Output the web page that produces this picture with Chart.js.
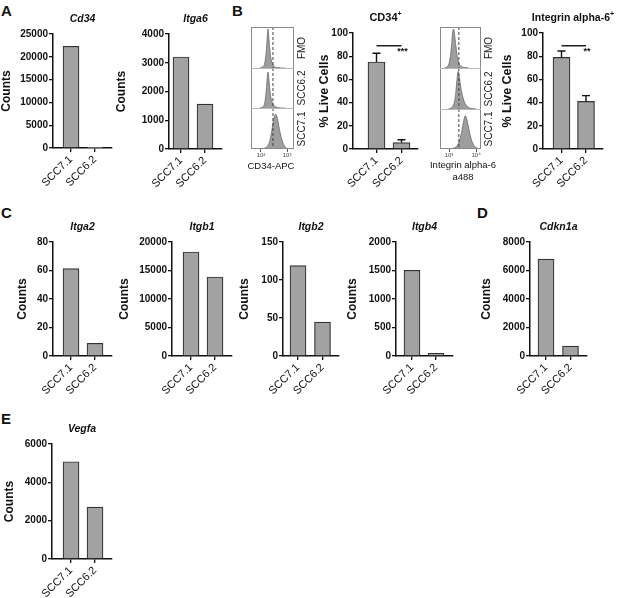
<!DOCTYPE html>
<html><head><meta charset="utf-8">
<script src="https://cdn.jsdelivr.net/npm/chart.js@4.4.1/dist/chart.umd.min.js"></script>
<style>
html,body{margin:0;padding:0;background:#fff;}
#root{position:relative;width:617px;height:598px;overflow:hidden;background:#fff;font-family:"Liberation Sans",Arial,sans-serif;}
.lbl{position:absolute;white-space:nowrap;color:#111;line-height:1;}
.panel{font-weight:bold;font-size:15px;}
.rot{transform:translate(-50%,-50%) rotate(-90deg);font-size:10px;color:#222;}
.ctr{transform:translateX(-50%);font-size:9.5px;color:#111;}
canvas{position:absolute;}
</style></head><body><div id="root"></div>
<script>
// ---------- data ----------
const categories = ['SCC7.1', 'SCC6.2'];
const cd34Counts = [22300, 170];
const itga6Counts = [3200, 1560];
const cd34PosPct = [75, 5.5];
const cd34PosErr = [82.5, 8];
const itga6PosPct = [79, 41];
const itga6PosErr = [84.5, 46];
const itga2Counts = [61.3, 8.9];
const itgb1Counts = [18250, 13860];
const itgb2Counts = [119, 44.7];
const itgb4Counts = [1503, 47];
const cdkn1aCounts = [6800, 700];
const vegfaCounts = [5076, 2703];

const cd34Ticks = [0, 5000, 10000, 15000, 20000, 25000];
const itga6Ticks = [0, 1000, 2000, 3000, 4000];
const pctTicks = [0, 20, 40, 60, 80, 100];
const itga2Ticks = [0, 20, 40, 60, 80];
const itgb1Ticks = [0, 5000, 10000, 15000, 20000];
const itgb2Ticks = [0, 50, 100, 150];
const itgb4Ticks = [0, 500, 1000, 1500, 2000];
const cdkn1aTicks = [0, 2000, 4000, 6000, 8000];
const vegfaTicks = [0, 2000, 4000, 6000];

const cd34SigLevel = 89;
const itga6SigLevel = 89;

// flow histograms (fluorescence on 0-100 display scale, relative count 0-100)
const histRows = ['FMO', 'SCC6.2', 'SCC7.1'];
const cd34FmoX = [20, 25, 28, 31, 33, 35, 37, 38.5, 39.5, 41, 43, 45, 47, 50, 53, 57, 62, 70, 80];
const cd34FmoY = [0, 1, 3, 8, 18, 35, 62, 85, 95, 80, 55, 33, 20, 10, 5, 2, 1, 0, 0];
const cd34Scc62X = [20, 25, 28, 31, 33, 35, 37, 38.5, 39.5, 41, 43, 45, 47, 50, 53, 57, 62, 70, 80];
const cd34Scc62Y = [0, 1, 3, 9, 20, 38, 65, 85, 90, 78, 55, 35, 22, 12, 6, 3, 1, 0, 0];
const cd34Scc71X = [25, 32, 38, 42, 45, 48, 51, 54, 57, 60, 63, 66, 70, 74, 78, 83, 90];
const cd34Scc71Y = [0, 2, 6, 14, 25, 42, 62, 78, 85, 80, 66, 48, 30, 16, 7, 2, 0];
const itga6FmoX = [10, 16, 20, 23, 26, 29, 31, 33, 35, 38, 41, 44, 48, 53, 60, 70];
const itga6FmoY = [0, 2, 6, 15, 35, 65, 88, 95, 85, 60, 35, 18, 8, 3, 1, 0];
const itga6Scc62X = [20, 27, 32, 36, 39, 42, 44, 46, 49, 52, 56, 60, 65, 71, 78, 88];
const itga6Scc62Y = [0, 2, 8, 20, 45, 78, 92, 85, 65, 45, 28, 16, 8, 3, 1, 0];
const itga6Scc71X = [25, 33, 40, 45, 49, 53, 57, 60, 62, 65, 68, 72, 76, 81, 87, 95];
const itga6Scc71Y = [0, 2, 6, 14, 26, 44, 66, 80, 83, 76, 62, 42, 25, 12, 4, 0];
const cd34Gate = 51;
const itga6Gate = 46;
const cd34HistTicks = [23, 84];
const itga6HistTicks = [22, 88];
const cd34HistTickLabels = ['10²', '10³'];
const itga6HistTickLabels = ['10³', '10⁴'];

// ---------- helpers ----------
const root = document.getElementById('root');
Chart.defaults.font.family = '"Liberation Sans", Arial, sans-serif';
Chart.defaults.color = '#111';
const FONT = '"Liberation Sans", Arial, sans-serif';

function addLabel(text, x, y, cls, extra) {
  const d = document.createElement('div');
  d.className = 'lbl ' + cls;
  d.innerHTML = text;
  d.style.left = x + 'px';
  d.style.top = y + 'px';
  if (extra) Object.assign(d.style, extra);
  root.appendChild(d);
  return d;
}

function barChart(cfg) {
  const Wy = 60, Pt = 32, Hx = 48, Pr = 12;
  const cLeft = cfg.left - Wy, cTop = cfg.top - Pt;
  const w = (cfg.right - cfg.left) + Wy + Pr;
  const h = (cfg.bottom - cfg.top) + Pt + Hx;
  const cv = document.createElement('canvas');
  cv.width = w; cv.height = h;
  cv.style.left = cLeft + 'px'; cv.style.top = cTop + 'px';
  cv.style.width = w + 'px'; cv.style.height = h + 'px';
  root.appendChild(cv);
  const s = cfg.centers[1] - cfg.centers[0];
  const xmin = -(cfg.centers[0] - cfg.left) / s;
  const xmax = 1 + (cfg.right - cfg.centers[1]) / s;
  const yTicks = cfg.ticks;
  const extras = {
    id: 'extras',
    afterDatasetsDraw(chart) {
      const ctx = chart.ctx, xs = chart.scales.x, ys = chart.scales.y, a = chart.chartArea;
      ctx.save();
      ctx.strokeStyle = '#111'; ctx.lineWidth = 1.4; ctx.fillStyle = '#111';
      if (cfg.errs) {
        cfg.errs.forEach((e, i) => {
          const x = xs.getPixelForValue(i);
          const y0 = ys.getPixelForValue(cfg.vals[i]);
          const y1 = ys.getPixelForValue(e);
          ctx.beginPath();
          ctx.moveTo(x, y0); ctx.lineTo(x, y1);
          ctx.moveTo(x - 4, y1); ctx.lineTo(x + 4, y1);
          ctx.stroke();
        });
      }
      if (cfg.sig) {
        const yl = ys.getPixelForValue(cfg.sig.level);
        const x0 = xs.getPixelForValue(0), x1 = xs.getPixelForValue(1);
        ctx.beginPath(); ctx.moveTo(x0, yl); ctx.lineTo(x1, yl); ctx.stroke();
        ctx.font = 'bold 9px ' + FONT;
        ctx.textAlign = 'center'; ctx.textBaseline = 'middle';
        ctx.fillText(cfg.sig.text, x1 + 1, yl + 6);
      }
      // chart title
      const cx = (a.left + a.right) / 2, ty = a.top - 15;
      ctx.textBaseline = 'middle';
      if (cfg.sup) {
        ctx.font = 'bold ' + cfg.titleSize + 'px ' + FONT;
        const tw = ctx.measureText(cfg.title).width;
        ctx.font = 'bold 7px ' + FONT;
        const sw = ctx.measureText('+').width;
        const x0 = cx - (tw + sw) / 2;
        ctx.textAlign = 'left';
        ctx.font = 'bold ' + cfg.titleSize + 'px ' + FONT;
        ctx.fillText(cfg.title, x0, ty);
        ctx.font = 'bold 7px ' + FONT;
        ctx.fillText('+', x0 + tw, ty - 4);
      } else {
        ctx.font = (cfg.italic ? 'italic ' : '') + 'bold ' + cfg.titleSize + 'px ' + FONT;
        ctx.textAlign = 'center';
        ctx.fillText(cfg.title, cx, ty);
      }
      // y title
      ctx.translate(cfg.yTitleX - cLeft, (a.top + a.bottom) / 2);
      ctx.rotate(-Math.PI / 2);
      ctx.font = 'bold ' + cfg.yTitleSize + 'px ' + FONT;
      ctx.textAlign = 'center'; ctx.textBaseline = 'middle';
      ctx.fillText(cfg.yTitle, 0, 0);
      ctx.restore();
    }
  };
  new Chart(cv, {
    type: 'bar',
    data: {
      datasets: [{
        data: cfg.vals.map((v, i) => ({ x: i, y: v })),
        backgroundColor: '#a2a2a2',
        borderColor: '#333333',
        borderWidth: 1.2,
        barThickness: cfg.barW
      }]
    },
    options: {
      animation: false, responsive: false, events: [],
      layout: { padding: { top: Pt, right: Pr, left: 0, bottom: 0 } },
      plugins: { legend: { display: false }, tooltip: { enabled: false }, title: { display: false } },
      scales: {
        x: {
          type: 'linear', min: xmin, max: xmax, offset: false,
          afterBuildTicks: sc => { sc.ticks = [{ value: 0 }, { value: 1 }]; },
          afterFit: sc => { sc.height = Hx; },
          ticks: { callback: v => categories[v], minRotation: 45, maxRotation: 45, autoSkip: false,
                   font: { size: 11 }, color: '#111', padding: 1 },
          grid: { offset: false, drawOnChartArea: false, drawTicks: true, tickLength: 4, color: '#111', lineWidth: 1.3 },
          border: { display: true, color: '#111', width: 1.5 }
        },
        y: {
          min: 0, max: yTicks[yTicks.length - 1],
          afterBuildTicks: sc => { sc.ticks = yTicks.map(v => ({ value: v })); },
          afterFit: sc => { sc.width = Wy; },
          ticks: { callback: v => String(v), font: { weight: 'bold', size: 10 }, color: '#111', padding: 1 },
          grid: { drawOnChartArea: false, drawTicks: true, tickLength: 4, color: '#111', lineWidth: 1.3 },
          border: { display: true, color: '#111', width: 1.5 }
        }
      }
    },
    plugins: [extras]
  });
}

function histPanel(cfg) {
  const w = cfg.right - cfg.left;
  cfg.series.forEach((sr, i) => {
    const top = cfg.rows[i], bot = cfg.rows[i + 1];
    const last = i === cfg.series.length - 1;
    const axisH = last ? 14 : 0;
    const h = bot - top + axisH;
    const cv = document.createElement('canvas');
    cv.width = w; cv.height = h;
    cv.style.left = cfg.left + 'px'; cv.style.top = top + 'px';
    cv.style.width = w + 'px'; cv.style.height = h + 'px';
    root.appendChild(cv);
    const gate = {
      id: 'gate',
      afterDatasetsDraw(chart) {
        const ctx = chart.ctx, a = chart.chartArea;
        const x = chart.scales.x.getPixelForValue(cfg.gate);
        ctx.save();
        ctx.strokeStyle = '#444'; ctx.lineWidth = 1; ctx.setLineDash([3, 2]);
        ctx.beginPath(); ctx.moveTo(x, a.top); ctx.lineTo(x, a.bottom); ctx.stroke();
        ctx.restore();
      }
    };
    new Chart(cv, {
      type: 'line',
      data: {
        datasets: [{
          data: sr.x.map((x, k) => ({ x: x, y: sr.y[k] })),
          fill: 'origin', tension: 0.35, pointRadius: 0,
          borderWidth: 0.8, borderColor: '#6a6a6a', backgroundColor: '#9e9e9e'
        }]
      },
      options: {
        animation: false, responsive: false, events: [],
        layout: { padding: 0 },
        plugins: { legend: { display: false }, tooltip: { enabled: false } },
        scales: {
          x: {
            type: 'linear', min: 0, max: 100, display: last, offset: false,
            afterBuildTicks: sc => { sc.ticks = cfg.ticks.map(v => ({ value: v })); },
            afterFit: sc => { sc.height = axisH; },
            ticks: { callback: (v, idx) => cfg.tickLabels[idx], font: { size: 6 }, color: '#444',
                     padding: 0, maxRotation: 0, autoSkip: false },
            grid: { drawOnChartArea: false, drawTicks: true, tickLength: 3, color: '#555', lineWidth: 1 },
            border: { display: false }
          },
          y: { min: 0, max: 100, display: false }
        }
      },
      plugins: [gate]
    });
    addLabel(histRows[i], cfg.labelX, (top + bot) / 2, 'rot');
  });
  const box = document.createElement('div');
  box.style.cssText = `position:absolute;left:${cfg.left}px;top:${cfg.rows[0]}px;width:${w}px;height:${cfg.rows[3] - cfg.rows[0]}px;border:1px solid #8a8a8a;box-sizing:border-box;`;
  root.appendChild(box);
  [1, 2].forEach(k => {
    const ln = document.createElement('div');
    ln.style.cssText = `position:absolute;left:${cfg.left}px;top:${cfg.rows[k]}px;width:${w}px;height:1px;background:#b8b8b8;`;
    root.appendChild(ln);
  });
}

// ---------- panel letters ----------
addLabel('A', 1, 3, 'panel');
addLabel('B', 232, 3, 'panel');
addLabel('C', 1, 205, 'panel');
addLabel('D', 477, 205, 'panel');
addLabel('E', 1, 411, 'panel');

// ---------- A ----------
barChart({ vals: cd34Counts, ticks: cd34Ticks, left: 53, right: 112, top: 34, bottom: 148,
  centers: [71, 95], barW: 16, title: 'Cd34', italic: true, titleSize: 10.5,
  yTitle: 'Counts', yTitleX: 7, yTitleSize: 12 });
barChart({ vals: itga6Counts, ticks: itga6Ticks, left: 169, right: 222, top: 34, bottom: 149,
  centers: [181, 205], barW: 16, title: 'Itga6', italic: true, titleSize: 10.5,
  yTitle: 'Counts', yTitleX: 122, yTitleSize: 12 });

// ---------- B ----------
histPanel({ left: 251, right: 294, rows: [27, 68, 108, 149],
  series: [{ x: cd34FmoX, y: cd34FmoY }, { x: cd34Scc62X, y: cd34Scc62Y }, { x: cd34Scc71X, y: cd34Scc71Y }],
  gate: cd34Gate, ticks: cd34HistTicks, tickLabels: cd34HistTickLabels, labelX: 302 });
addLabel('CD34-APC', 271, 161, 'ctr');
barChart({ vals: cd34PosPct, errs: cd34PosErr, ticks: pctTicks, left: 353, right: 418, top: 33, bottom: 149,
  centers: [376.5, 401.5], barW: 17, title: 'CD34', sup: true, titleSize: 11,
  yTitle: '% Live Cells', yTitleX: 325, yTitleSize: 12.5, sig: { level: cd34SigLevel, text: '***' } });

histPanel({ left: 440, right: 481, rows: [27, 68, 109, 149],
  series: [{ x: itga6FmoX, y: itga6FmoY }, { x: itga6Scc62X, y: itga6Scc62Y }, { x: itga6Scc71X, y: itga6Scc71Y }],
  gate: itga6Gate, ticks: itga6HistTicks, tickLabels: itga6HistTickLabels, labelX: 489 });
addLabel('Integrin alpha-6', 463, 160, 'ctr');
addLabel('a488', 463, 172, 'ctr');
barChart({ vals: itga6PosPct, errs: itga6PosErr, ticks: pctTicks, left: 543, right: 603, top: 33, bottom: 149,
  centers: [561.5, 586], barW: 17, title: 'Integrin alpha-6', sup: true, titleSize: 10.5,
  yTitle: '% Live Cells', yTitleX: 508, yTitleSize: 12.5, sig: { level: itga6SigLevel, text: '**' } });

// ---------- C ----------
barChart({ vals: itga2Counts, ticks: itga2Ticks, left: 53, right: 112, top: 242, bottom: 356,
  centers: [71, 95], barW: 16, title: 'Itga2', italic: true, titleSize: 10.5,
  yTitle: 'Counts', yTitleX: 23, yTitleSize: 12 });
barChart({ vals: itgb1Counts, ticks: itgb1Ticks, left: 172, right: 232, top: 242, bottom: 356,
  centers: [191, 215], barW: 16, title: 'Itgb1', italic: true, titleSize: 10.5,
  yTitle: 'Counts', yTitleX: 125, yTitleSize: 12 });
barChart({ vals: itgb2Counts, ticks: itgb2Ticks, left: 283, right: 339, top: 242, bottom: 356,
  centers: [298, 322.5], barW: 16, title: 'Itgb2', italic: true, titleSize: 10.5,
  yTitle: 'Counts', yTitleX: 245, yTitleSize: 12 });
barChart({ vals: itgb4Counts, ticks: itgb4Ticks, left: 396, right: 453, top: 242, bottom: 356,
  centers: [412, 436], barW: 16, title: 'Itgb4', italic: true, titleSize: 10.5,
  yTitle: 'Counts', yTitleX: 353, yTitleSize: 12 });

// ---------- D ----------
barChart({ vals: cdkn1aCounts, ticks: cdkn1aTicks, left: 530, right: 587, top: 242, bottom: 356,
  centers: [546, 570.5], barW: 16, title: 'Cdkn1a', italic: true, titleSize: 10.5,
  yTitle: 'Counts', yTitleX: 487, yTitleSize: 12 });

// ---------- E ----------
barChart({ vals: vegfaCounts, ticks: vegfaTicks, left: 52, right: 112, top: 444, bottom: 559,
  centers: [71, 95], barW: 16, title: 'Vegfa', italic: true, titleSize: 10.5,
  yTitle: 'Counts', yTitleX: 10, yTitleSize: 12 });
</script></body></html>
